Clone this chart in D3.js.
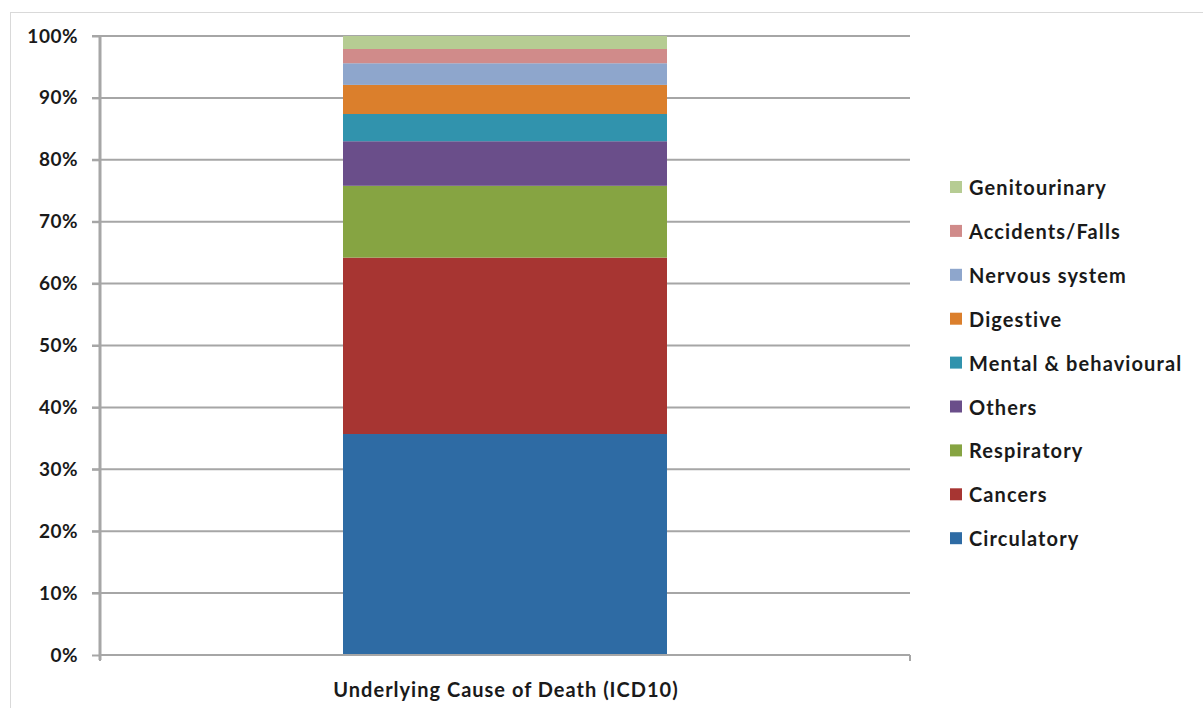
<!DOCTYPE html>
<html>
<head>
<meta charset="utf-8">
<script src="https://cdn.jsdelivr.net/npm/d3@7"></script>
<style>
  html, body { margin: 0; padding: 0; background: #fff; }
  text { font-family: Lato, "Open Sans", sans-serif; font-weight: 700; fill: #1a1a1a; }
</style>
</head>
<body>
<svg id="chart" width="1203" height="708"></svg>
<script>
// Share of deaths by underlying cause (ICD10), stacked bottom to top
const categories = ["Underlying Cause of Death (ICD10)"];
const causes = ["Circulatory", "Cancers", "Respiratory", "Others", "Mental & behavioural",
                "Digestive", "Nervous system", "Accidents/Falls", "Genitourinary"];
const shares = [35.7, 28.5, 11.6, 7.2, 4.4, 4.7, 3.5, 2.3, 2.1];
const colors = ["#2e6ba4", "#a73532", "#86a442", "#6a4e8a", "#3193ad",
                "#db7f2c", "#8ea6cc", "#d08b8a", "#b6cc93"];
const tickValues = [0, 10, 20, 30, 40, 50, 60, 70, 80, 90, 100];

const svg = d3.select("#chart");
const plot = { left: 100, right: 910, top: 36, bottom: 655 };

// outer frame (top and left edges only visible)
svg.append("line").attr("x1", 10).attr("x2", 1203).attr("y1", 12.5).attr("y2", 12.5)
  .attr("stroke", "#d9d9d9").attr("stroke-width", 1);
svg.append("line").attr("x1", 10.5).attr("x2", 10.5).attr("y1", 12).attr("y2", 708)
  .attr("stroke", "#d9d9d9").attr("stroke-width", 1);

const y = d3.scaleLinear().domain([0, 100]).range([plot.bottom, plot.top]);
const x = d3.scaleBand().domain(categories).range([plot.left, plot.right]).paddingInner(0.6).paddingOuter(0.3);

// gridlines
svg.append("g").selectAll("line").data(tickValues.filter(d => d > 0)).join("line")
  .attr("x1", plot.left - 8).attr("x2", plot.right)
  .attr("y1", d => y(d)).attr("y2", d => y(d))
  .attr("stroke", "#a6a6a6").attr("stroke-width", 2);

// stacked segments
const stackData = [Object.fromEntries(causes.map((c, i) => [c, shares[i]]))];
const series = d3.stack().keys(causes)(stackData);
svg.append("g").selectAll("rect").data(series).join("rect")
  .attr("x", x(categories[0]))
  .attr("width", x.bandwidth())
  .attr("y", d => y(d[0][1]))
  .attr("height", d => y(d[0][0]) - y(d[0][1]))
  .attr("fill", (d, i) => colors[i]);

// value axis
const yAxis = svg.append("g").attr("transform", `translate(${plot.left},0)`)
  .call(d3.axisLeft(y).tickValues(tickValues).tickFormat(d => d + "%").tickSize(8).tickPadding(14));
yAxis.select(".domain").attr("stroke", "#a6a6a6").attr("stroke-width", 3)
  .attr("d", `M0,${plot.top}V${plot.bottom + 5}`);
yAxis.selectAll(".tick line").attr("stroke", "#a6a6a6").attr("stroke-width", 2);
yAxis.selectAll("text").style("font-size", "19px").style("letter-spacing", "0.5px").attr("fill", "#1a1a1a");

// category axis
const xAxisG = svg.append("g");
xAxisG.append("line").attr("x1", plot.left).attr("x2", plot.right)
  .attr("y1", plot.bottom).attr("y2", plot.bottom)
  .attr("stroke", "#a6a6a6").attr("stroke-width", 2);
[plot.left, plot.right].forEach(px => {
  xAxisG.append("line").attr("x1", px).attr("x2", px)
    .attr("y1", plot.bottom).attr("y2", plot.bottom + 6)
    .attr("stroke", "#a6a6a6").attr("stroke-width", 2);
});
xAxisG.append("text")
  .attr("x", x(categories[0]) + x.bandwidth() / 2 + 1)
  .attr("y", 697)
  .attr("text-anchor", "middle")
  .style("font-size", "20px").style("letter-spacing", "1px")
  .text(categories[0]);

// legend, top entry is the last stacked series
const legendOrder = causes.map((c, i) => ({ c, color: colors[i] })).reverse();
const legend = svg.append("g").selectAll("g").data(legendOrder).join("g")
  .attr("transform", (d, i) => `translate(950,${188 + i * 43.9})`);
legend.append("rect").attr("x", 0).attr("y", -7).attr("width", 12).attr("height", 12)
  .attr("fill", d => d.color);
legend.append("text").attr("x", 19).attr("y", 0).attr("dy", "0.35em")
  .style("font-size", "20px").style("letter-spacing", "1.1px")
  .text(d => d.c);
</script>
</body>
</html>
